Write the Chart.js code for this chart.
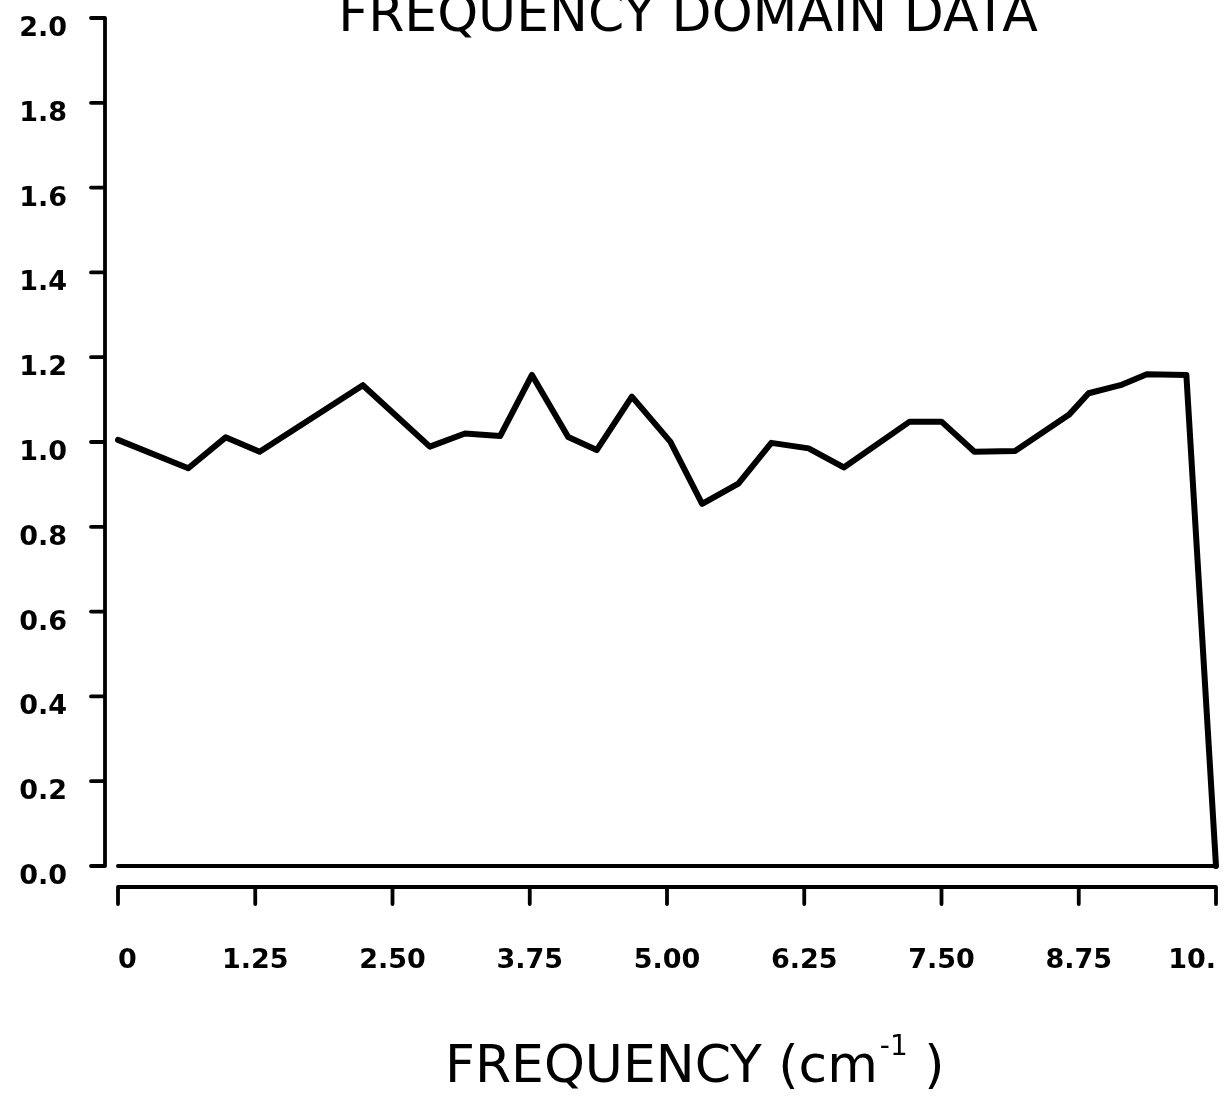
<!DOCTYPE html>
<html>
<head>
<meta charset="utf-8">
<script src="https://cdn.jsdelivr.net/npm/chart.js@4.4.1/dist/chart.umd.min.js"></script>
<style>
  html, body { margin: 0; padding: 0; background: #fff; }
  canvas { display: block; }
</style>
</head>
<body>
<canvas id="c" width="1230" height="1109"></canvas>
<script>
// Spectrum samples (frequency in cm^-1, relative amplitude)
const frequency = [0, 0.64, 0.98, 1.29, 2.23, 2.84, 3.16, 3.48, 3.77, 4.10, 4.36, 4.68, 5.03, 5.32,
                   5.65, 5.95, 6.29, 6.61, 7.21, 7.50, 7.80, 8.17, 8.66, 8.84, 9.13, 9.37, 9.73, 10.0];
const amplitude = [1.005, 0.938, 1.011, 0.977, 1.134, 0.989, 1.020, 1.014, 1.158, 1.012, 0.981, 1.107, 1.001, 0.854,
                   0.902, 0.998, 0.985, 0.940, 1.048, 1.048, 0.977, 0.979, 1.064, 1.115, 1.134, 1.160, 1.158, 0.0];

// Zero baseline closing the trace
const baselineFreq = [0, 10];
const baselineAmp = [0, 0];

// Axis ticks and their printed labels
const yTicks = [0, 0.2, 0.4, 0.6, 0.8, 1.0, 1.2, 1.4, 1.6, 1.8, 2.0];
const yTickLabels = ['0.0', '0.2', '0.4', '0.6', '0.8', '1.0', '1.2', '1.4', '1.6', '1.8', '2.0'];
const xTicks = [0, 1.25, 2.5, 3.75, 5.0, 6.25, 7.5, 8.75, 10];
const xTickLabels = ['0', '1.25', '2.50', '3.75', '5.00', '6.25', '7.50', '8.75', '10.'];

const chartTitle = 'FREQUENCY DOMAIN DATA';
const xTitleMain = 'FREQUENCY (cm';
const xTitleSup = '-1';
const xTitleEnd = ' )';

const toPoints = (xs, ys) => xs.map((x, i) => ({ x: x, y: ys[i] }));

// Keep the plot area fixed: no extra room reserved for overhanging labels
const noScalePadding = s => { s.paddingTop = 0; s.paddingBottom = 0; s.paddingLeft = 0; s.paddingRight = 0; };

// Detached axes: the y axis sits left of the origin, the x axis below the zero line
const plotterAxes = {
  id: 'plotterAxes',
  beforeDatasetsDraw(chart) {
    const { ctx } = chart;
    const xs = chart.scales.x, ys = chart.scales.y;
    ctx.save();
    ctx.strokeStyle = '#000';
    ctx.lineCap = 'round';
    ctx.lineWidth = 3.8;
    ctx.beginPath();
    const axisX = xs.getPixelForValue(0) - 13;
    ctx.moveTo(axisX, ys.getPixelForValue(yTicks[yTicks.length - 1]));
    ctx.lineTo(axisX, ys.getPixelForValue(yTicks[0]));
    yTicks.forEach(v => {
      const p = ys.getPixelForValue(v);
      ctx.moveTo(axisX - 14, p);
      ctx.lineTo(axisX, p);
    });
    const axisY = ys.getPixelForValue(0) + 21;
    ctx.moveTo(xs.getPixelForValue(xTicks[0]), axisY);
    ctx.lineTo(xs.getPixelForValue(xTicks[xTicks.length - 1]), axisY);
    xTicks.forEach(v => {
      const p = xs.getPixelForValue(v);
      ctx.moveTo(p, axisY);
      ctx.lineTo(p, axisY + 17);
    });
    ctx.stroke();
    ctx.restore();
  },
  afterDraw(chart) {
    const { ctx } = chart;
    ctx.save();
    ctx.fillStyle = '#000';
    ctx.textBaseline = 'alphabetic';
    // heading, partly running off the top edge
    ctx.font = '52px "DejaVu Sans"';
    ctx.textAlign = 'center';
    ctx.fillText(chartTitle, 688, 31);
    // x axis title with superscript unit
    ctx.textAlign = 'left';
    ctx.font = '52px "DejaVu Sans"';
    let x = 445;
    const base = 1082;
    ctx.fillText(xTitleMain, x, base);
    x += ctx.measureText(xTitleMain).width + 2;
    ctx.font = '28px "DejaVu Sans"';
    ctx.fillText(xTitleSup, x, base - 27);
    x += ctx.measureText(xTitleSup).width;
    ctx.font = '52px "DejaVu Sans"';
    ctx.fillText(xTitleEnd, x, base);
    ctx.restore();
  }
};

new Chart(document.getElementById('c'), {
  type: 'line',
  data: {
    datasets: [
      {
        data: toPoints(frequency, amplitude),
        borderColor: '#000',
        borderWidth: 6,
        borderJoinStyle: 'round',
        borderCapStyle: 'round',
        pointRadius: 0,
        tension: 0,
        fill: false,
        clip: false
      },
      {
        data: toPoints(baselineFreq, baselineAmp),
        borderColor: '#000',
        borderWidth: 4,
        borderCapStyle: 'round',
        pointRadius: 0,
        fill: false,
        clip: false
      }
    ]
  },
  options: {
    responsive: false,
    animation: false,
    events: [],
    layout: { padding: { top: 18, right: 14, left: 0, bottom: 0 } },
    plugins: { legend: { display: false }, tooltip: { enabled: false }, title: { display: false } },
    scales: {
      x: {
        type: 'linear',
        min: 0,
        max: 10,
        grid: { display: false, drawTicks: false },
        border: { display: false },
        afterBuildTicks: s => { s.ticks = xTicks.map(v => ({ value: v })); },
        afterFit: s => { s.height = 243; noScalePadding(s); },
        ticks: {
          autoSkip: false,
          maxRotation: 0,
          align: 'inner',
          padding: 79,
          color: '#000',
          font: { family: '"DejaVu Sans"', size: 27, weight: 'bold' },
          callback: v => xTickLabels[xTicks.indexOf(v)]
        }
      },
      y: {
        min: 0,
        max: 2,
        grid: { display: false, drawTicks: false },
        border: { display: false },
        afterBuildTicks: s => { s.ticks = yTicks.map(v => ({ value: v })); },
        afterFit: s => { s.width = 118; noScalePadding(s); },
        ticks: {
          padding: 51,
          labelOffset: 11,
          color: '#000',
          font: { family: '"DejaVu Sans"', size: 27, weight: 'bold' },
          callback: v => yTickLabels[yTicks.findIndex(t => Math.abs(t - v) < 1e-9)]
        }
      }
    }
  },
  plugins: [plotterAxes]
});
</script>
</body>
</html>
